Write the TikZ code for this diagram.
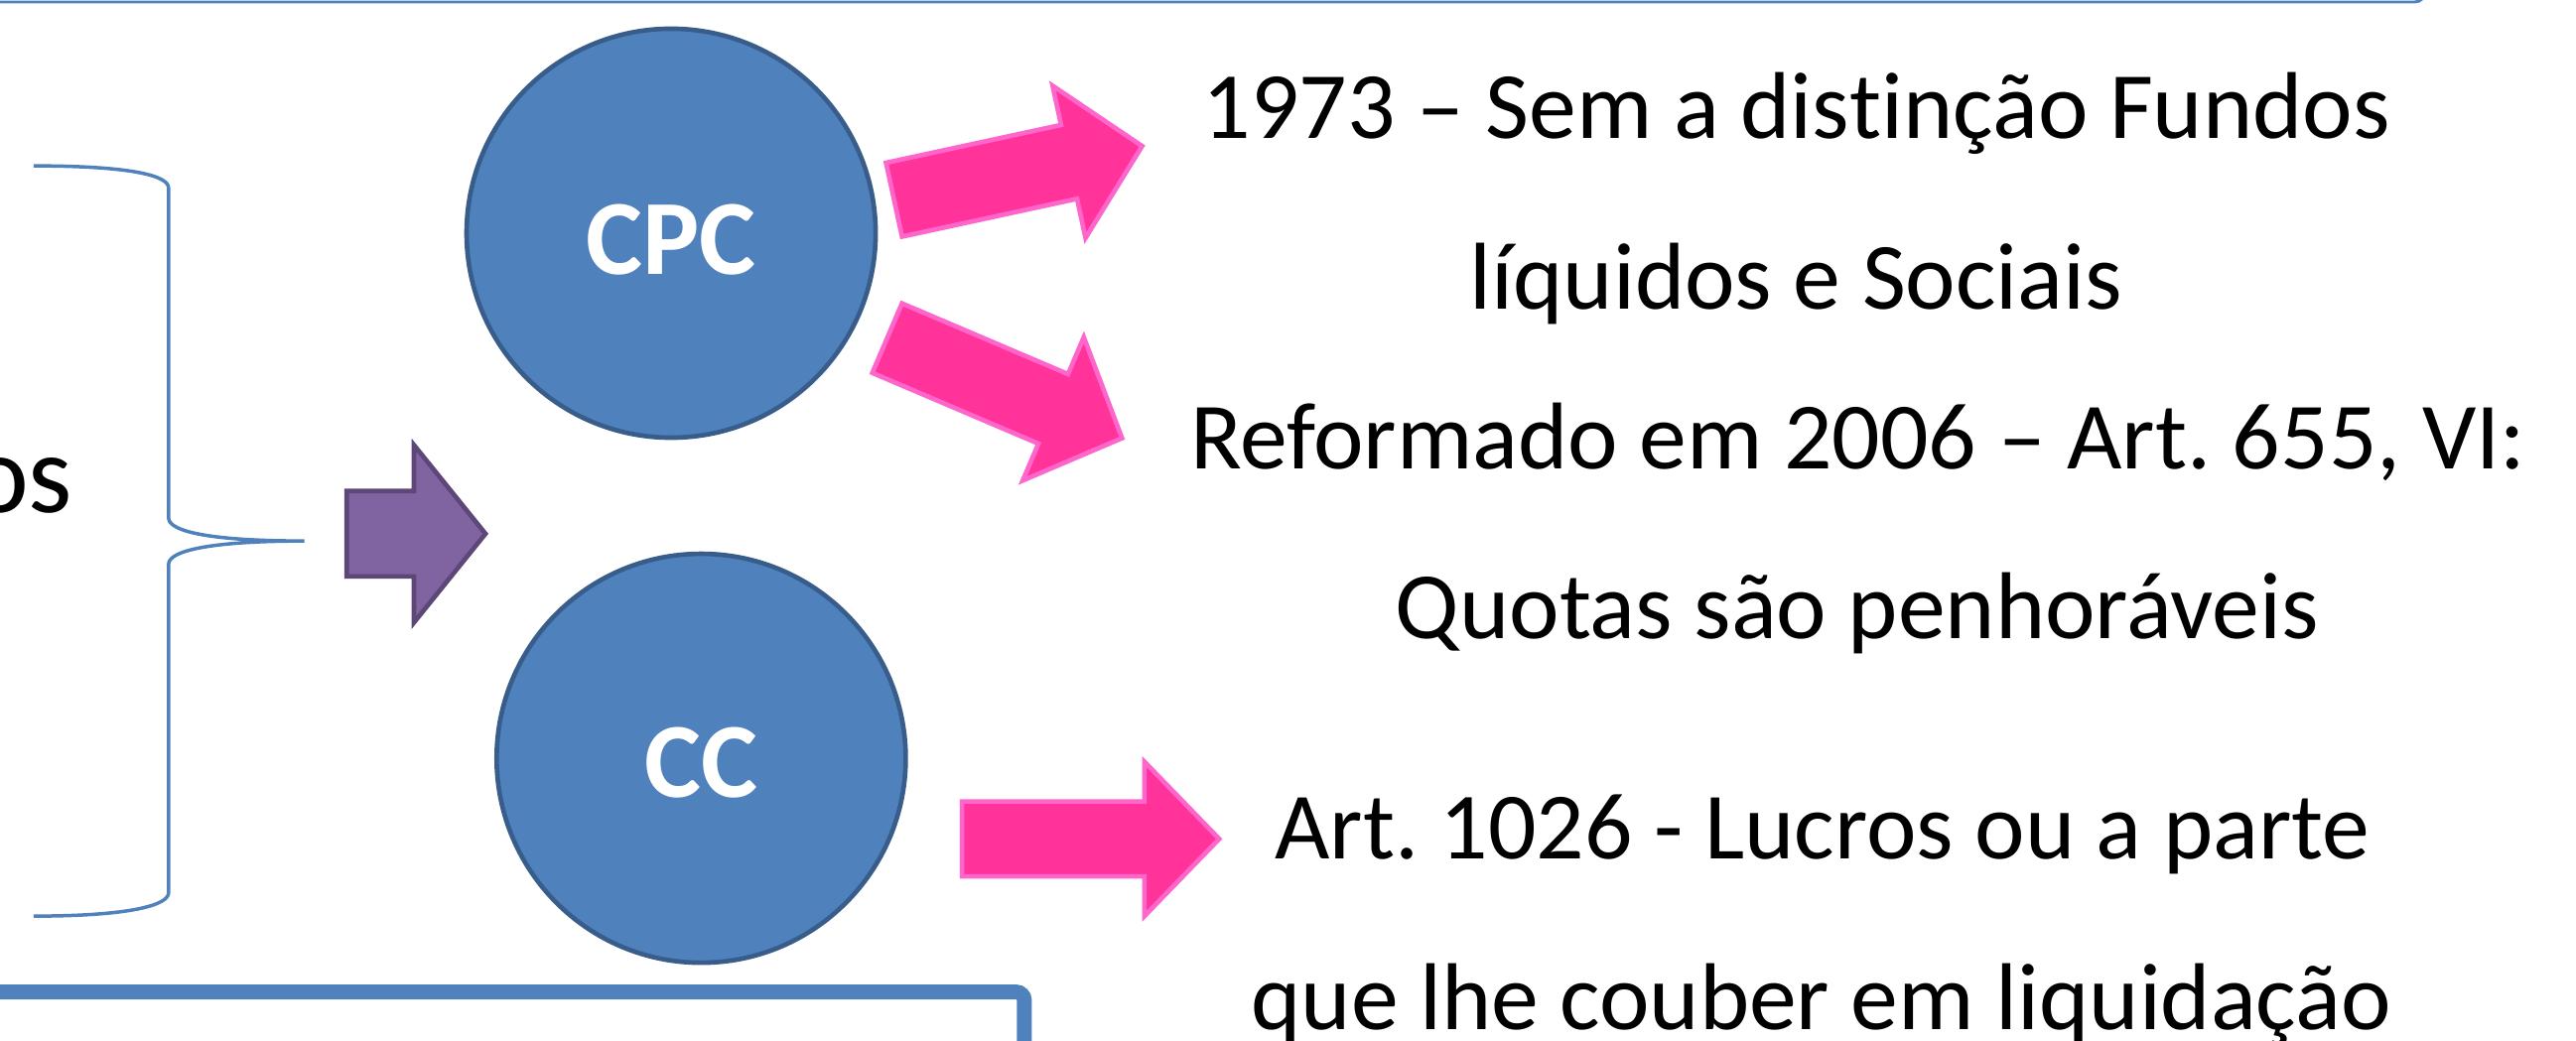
\documentclass[tikz,border=0pt]{standalone}
\usepackage{fontspec}
\setmainfont[RawFeature={-liga;-clig;-dlig;-calt}]{Carlito}
\frenchspacing
\definecolor{accentblue}{HTML}{4F81BD}
\definecolor{darkblue}{HTML}{385D8A}
\definecolor{hotpink}{HTML}{FF3399}
\definecolor{lightpink}{HTML}{FF66CC}
\definecolor{violet}{HTML}{8064A2}
\definecolor{darkviolet}{HTML}{5C4776}
\tikzset{
    code/.style={circle, fill=accentblue, draw=darkblue, line width=0.8pt, minimum size=2.49cm, text=white, text depth=0pt, font=\fontsize{18.5}{22}\selectfont\bfseries},
    txt/.style={anchor=base, inner sep=0pt, font=\fontsize{16.45}{19}\selectfont},
    pinkarr/.style={fill=hotpink, draw=lightpink, line width=0.8pt},
    violetarr/.style={fill=violet, draw=darkviolet, line width=0.8pt},
    pics/blockarrow/.style args={#1/#2/#3/#4}{code={
        \path[pic actions] (0,-#3) -- (#1-#2,-#3) -- (#1-#2,-#4) -- (#1,0) -- (#1-#2,#4) -- (#1-#2,#3) -- (0,#3) -- cycle;
    }}
}
\begin{document}
\begin{tikzpicture}
    \useasboundingbox (0,0) rectangle (15.68,-6.3385);
    % frames cut by the edges
    \draw[accentblue, line width=0.5pt, rounded corners=0.06cm] (-0.1,-0.012) -| (14.76,0.3);
    \draw[accentblue, line width=0.09cm, rounded corners=0.05cm] (-0.1,-6.04) -| (6.235,-6.6);
    \node[txt, anchor=base east, font=\fontsize{19.5}{23}\selectfont] (os) at (0.45,-3.12) {os};
    % brace
    \draw[accentblue, line width=0.6pt] (0.204,-1.01) .. controls (0.80,-1.01) and (1.026,-1.07) .. (1.026,-1.144) -- (1.026,-3.153)
        .. controls (1.026,-3.24) and (1.3,-3.294) .. (1.853,-3.294)
        .. controls (1.3,-3.294) and (1.026,-3.35) .. (1.026,-3.436) -- (1.026,-5.436)
        .. controls (1.026,-5.51) and (0.80,-5.578) .. (0.204,-5.578);
    \pic[violetarr] at (2.11,-3.25) {blockarrow={0.845/0.435/0.26/0.54}};
    \node[code, text height=0.50cm] (cpc) at (4.085,-1.42) {CPC};
    \node[code, text height=0.48cm] (cc) at (4.268,-4.617) {CC};
    \pic[pinkarr, rotate=12.2] at (5.442,-1.216) {blockarrow={1.545/0.455/0.23/0.474}};
    \pic[pinkarr, rotate=-23.07] at (5.40,-2.059) {blockarrow={1.554/0.455/0.23/0.474}};
    \pic[pinkarr] at (5.856,-5.108) {blockarrow={1.565/0.455/0.228/0.47}};
    \node[txt] (l1) at (10.935,-0.846) {1973 – Sem a dis\kern0pt tin\kern0pt ção Fundos};
    \node[txt] (l2) at (10.934,-1.885) {líquidos e Sociais};
    \node[txt] (l3) at (11.308,-2.855) {Reformado em 2006 – Art. 655, VI:};
    \node[txt] (l4) at (11.305,-3.89) {Quotas são penhoráveis};
    \node[txt] (l5) at (11.093,-5.23) {Art. 1026 - Lucros ou a parte};
    \node[txt] (l6) at (11.087,-6.27) {que lhe couber em liquidação};
\end{tikzpicture}
\end{document}
